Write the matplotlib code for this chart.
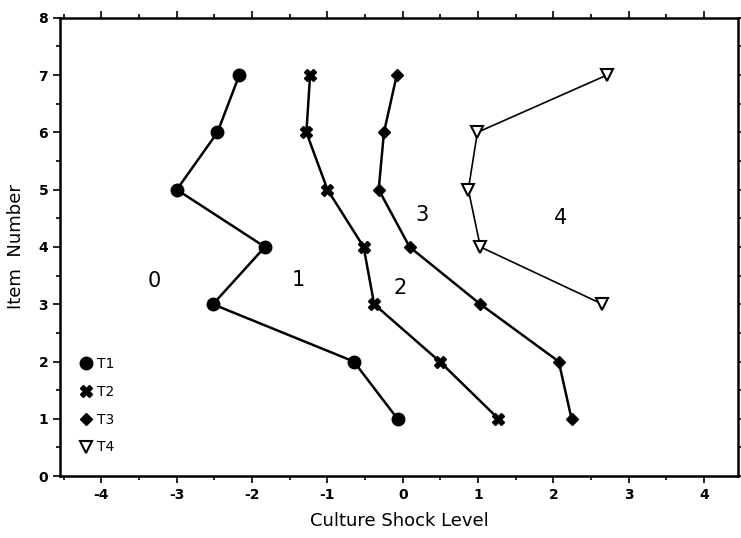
import matplotlib
matplotlib.use("Agg")
import matplotlib.pyplot as plt
from matplotlib.ticker import MultipleLocator

plt.rcParams["axes.unicode_minus"] = False

items = [1, 2, 3, 4, 5, 6, 7]
t1 = [-0.07, -0.65, -2.52, -1.83, -3.0, -2.46, -2.17]
t2 = [1.27, 0.49, -0.38, -0.52, -1.0, -1.28, -1.23]
t3 = [2.24, 2.07, 1.03, 0.09, -0.32, -0.25, -0.08]
t4_items = [3, 4, 5, 6, 7]
t4 = [2.65, 1.03, 0.87, 0.99, 2.71]
region_labels = ["0", "1", "2", "3", "4"]
region_x = [-3.3, -1.39, -0.04, 0.25, 2.09]
region_y = [3.4, 3.42, 3.29, 4.55, 4.5]

fig = plt.figure(figsize=(7.41, 5.38), dpi=100)
ax = fig.add_axes([0.081, 0.115, 0.915, 0.852])

lw = 1.8
ax.plot(t1, items, color="black", lw=lw, marker="o", ms=9, label="T1")
ax.plot(t2, items, color="black", lw=lw, marker="X", ms=9, label="T2")
ax.plot(t3, items, color="black", lw=lw, marker="D", ms=6.5, label="T3")
ax.plot(t4, t4_items, color="black", lw=1.2, marker="v", ms=9, mfc="white",
        mec="black", mew=1.5, label="T4")

for lab, x, y in zip(region_labels, region_x, region_y):
    ax.text(x, y, lab, fontsize=15, ha="center", va="center")

ax.set_xlim(-4.55, 4.45)
ax.set_ylim(0, 8)
ax.xaxis.set_major_locator(MultipleLocator(1))
ax.xaxis.set_minor_locator(MultipleLocator(0.5))
ax.yaxis.set_major_locator(MultipleLocator(1))
ax.yaxis.set_minor_locator(MultipleLocator(0.5))
ax.tick_params(which="both", top=True, right=True, direction="out", width=1.2)
ax.tick_params(which="major", length=5)
ax.tick_params(which="minor", length=3)
for lab in ax.get_xticklabels() + ax.get_yticklabels():
    lab.set_fontweight("bold")
    lab.set_fontsize(10)
for s in ax.spines.values():
    s.set_linewidth(1.8)

ax.set_xlabel("Culture Shock Level", fontsize=13, labelpad=7)
ax.set_ylabel("Item  Number", fontsize=13, labelpad=10)

leg = ax.legend(loc="lower left", bbox_to_anchor=(0.012, 0.02), frameon=False,
                fontsize=10, handlelength=0.8, handletextpad=0.4,
                labelspacing=1.0, borderaxespad=0.5)
for h in leg.legend_handles:
    h.set_linestyle("none")

fig.savefig("out.png", dpi=100)
